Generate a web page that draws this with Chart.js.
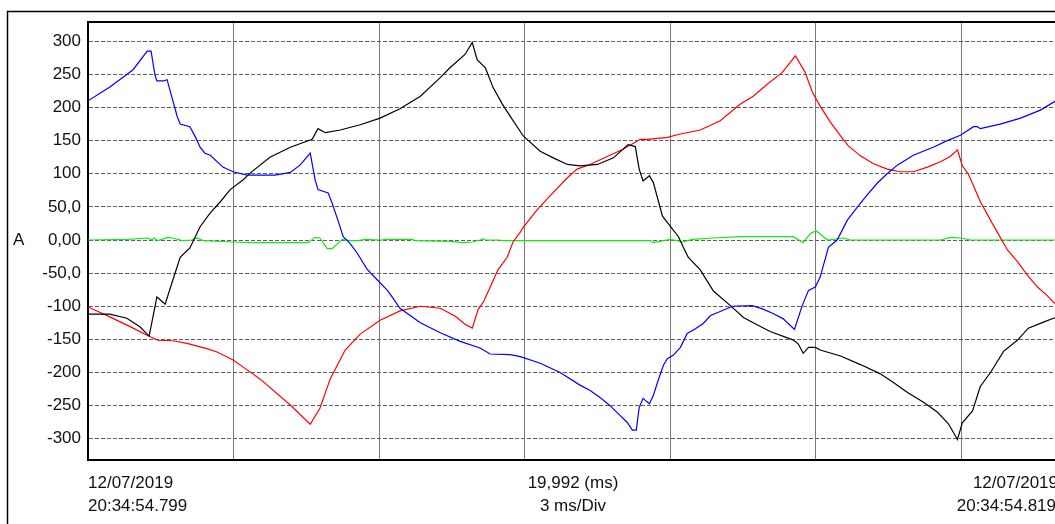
<!DOCTYPE html>
<html>
<head>
<meta charset="utf-8">
<script src="https://cdn.jsdelivr.net/npm/chart.js@4.4.0/dist/chart.umd.min.js"></script>
<style>
  html, body { margin: 0; padding: 0; overflow: hidden; background: #fff; }
  .wrap { position: relative; width: 1058px; height: 524px; }
</style>
</head>
<body>
<div class="wrap"><canvas id="osc"></canvas></div>
<script>
// time in ms from the left edge of the window, current in A
const blueT = [0, 0.45, 0.93, 1.22, 1.30, 1.38, 1.42, 1.55, 1.63, 1.84, 1.90, 2.10, 2.21, 2.31, 2.41, 2.52, 2.78, 2.99, 3.28, 3.86, 4.17, 4.37, 4.58, 4.68, 4.74, 4.95, 5.03, 5.15, 5.26, 5.40, 5.55, 5.75, 5.96, 6.17, 6.29, 6.43, 6.85, 7.26, 7.67, 8.08, 8.29, 8.70, 8.91, 9.32, 9.73, 10.14, 10.35, 10.56, 10.76, 10.97, 11.11, 11.22, 11.30, 11.36, 11.44, 11.57, 11.65, 11.75, 11.86, 11.94, 12.06, 12.21, 12.35, 12.52, 12.68, 12.83, 13.03, 13.28, 13.69, 13.90, 14.12, 14.33, 14.56, 14.72, 14.85, 14.99, 15.09, 15.26, 15.44, 15.65, 15.86, 16.06, 16.27, 16.47, 16.68, 17.01, 17.42, 17.71, 17.98, 18.25, 18.33, 18.39, 18.80, 19.22, 19.63, 19.99]
const blueA = [210, 231, 257, 285, 285, 249, 240, 240, 242, 186, 175, 171, 156, 140, 131, 128, 110, 103, 98, 98, 102, 113, 131, 91, 76, 71, 56, 30, 5, -5, -20, -44, -60, -76, -88, -103, -125, -140, -153, -163, -172, -173, -176, -186, -200, -219, -227, -238, -250, -265, -275, -287, -287, -253, -239, -247, -235, -212, -189, -179, -174, -162, -141, -134, -126, -114, -108, -100, -99, -104, -111, -119, -135, -99, -76, -71, -56, -11, 0, 30, 50, 68, 86, 100, 113, 128, 140, 150, 158, 171, 171, 168, 175, 184, 196, 212]

const blackT = [0, 0.45, 0.80, 1.07, 1.26, 1.42, 1.59, 1.75, 1.90, 2.10, 2.31, 2.52, 2.72, 2.93, 3.20, 3.34, 3.75, 4.17, 4.62, 4.74, 4.89, 5.20, 5.61, 6.02, 6.43, 6.85, 7.26, 7.46, 7.77, 7.92, 8.02, 8.19, 8.35, 8.54, 8.70, 8.97, 9.32, 9.59, 9.88, 10.14, 10.50, 10.83, 11.13, 11.28, 11.36, 11.44, 11.57, 11.65, 11.84, 12.00, 12.17, 12.27, 12.37, 12.62, 12.89, 13.24, 13.51, 13.71, 14.06, 14.54, 14.64, 14.74, 14.85, 14.99, 15.09, 15.51, 15.92, 16.33, 16.60, 16.89, 17.22, 17.51, 17.73, 17.92, 18.02, 18.23, 18.39, 18.60, 18.87, 19.16, 19.38, 19.69, 19.90, 19.99]
const blackA = [-112, -112, -118, -131, -145, -86, -97, -60, -26, -12, 20, 41, 57, 76, 91, 101, 125, 140, 152, 168, 162, 166, 174, 184, 198, 217, 245, 260, 280, 298, 272, 260, 230, 205, 187, 157, 134, 124, 114, 112, 114, 124, 144, 141, 107, 89, 97, 87, 36, 21, 5, -11, -26, -45, -77, -99, -117, -125, -138, -151, -157, -171, -162, -162, -166, -175, -188, -202, -215, -230, -245, -260, -277, -301, -276, -258, -221, -200, -168, -151, -133, -124, -118, -116]

const redT = [0, 0.45, 0.93, 1.28, 1.44, 1.75, 2.04, 2.45, 2.66, 2.99, 3.28, 3.55, 4.17, 4.58, 4.78, 4.99, 5.30, 5.61, 6.02, 6.43, 6.85, 7.26, 7.57, 7.77, 7.92, 8.04, 8.16, 8.29, 8.45, 8.64, 8.76, 8.91, 8.97, 9.26, 9.59, 9.88, 10.08, 10.35, 10.70, 11.03, 11.38, 11.53, 11.94, 12.21, 12.62, 13.03, 13.44, 13.71, 14.00, 14.31, 14.58, 14.78, 14.93, 15.09, 15.30, 15.51, 15.67, 15.92, 16.19, 16.47, 16.74, 17.01, 17.30, 17.57, 17.77, 17.92, 18.02, 18.14, 18.25, 18.39, 18.60, 18.95, 19.16, 19.36, 19.57, 19.77, 19.90, 19.99]
const redA = [-101, -116, -133, -146, -151, -152, -156, -164, -169, -181, -196, -210, -249, -278, -254, -210, -166, -142, -121, -107, -100, -103, -115, -127, -133, -105, -92, -71, -45, -26, -3, 12, 19, 46, 72, 94, 107, 114, 126, 137, 152, 152, 155, 160, 166, 180, 205, 217, 235, 253, 278, 253, 223, 202, 178, 157, 142, 127, 115, 107, 103, 103, 110, 118, 126, 136, 112, 100, 82, 58, 30, -15, -33, -53, -71, -84, -94, -99]

const greenT = [0, 0.82, 1.22, 1.32, 1.36, 1.44, 1.65, 1.75, 1.94, 2.14, 2.25, 2.37, 2.99, 3.34, 4.54, 4.68, 4.78, 4.93, 5.03, 5.24, 5.40, 5.57, 5.71, 6.02, 6.17, 6.68, 6.74, 7.46, 7.73, 7.92, 8.08, 8.14, 8.19, 8.45, 8.56, 9.53, 10.56, 11.59, 11.65, 12.00, 12.27, 12.45, 12.89, 13.44, 14.54, 14.74, 14.89, 15.01, 15.24, 15.57, 15.71, 17.57, 17.77, 17.98, 18.19, 19.99]
const greenA = [0, 1, 3, 0, 3, -1, 4, 3, -1, 0, 3, -1, -3, -4, -4, 4, 3, -13, -13, 1, -1, -1, 1, 0, 1, 1, -1, -2, -4, -3, 0, 2, 0, 0, -1, -1, -1, -1, -4, 1, -3, 1, 3, 5, 5, -4, 10, 14, 0, 3, 0, 0, 4, 3, 0, 0]

const yTickValues = [300, 250, 200, 150, 100, 50, 0, -50, -100, -150, -200, -250, -300]
const yTickLabels = ["300", "250", "200", "150", "100", "50,0", "0,00", "-50,0", "-100", "-150", "-200", "-250", "-300"]
const unitLabel = "A"
const startLabel = ["12/07/2019", "20:34:54.799"]
const endLabel = ["12/07/2019", "20:34:54.819"]
const spanLabel = ["19,992 (ms)", "3 ms/Div"]
const spanMs = 19.992
const divMs = 3

const FONT = "17px 'Liberation Sans', Arial, sans-serif"

const toPoints = (t, a) => t.map((x, i) => ({ x: x, y: a[i] }))

const series = (label, color, t, a) => ({
  label: label,
  data: toPoints(t, a),
  borderColor: color,
  backgroundColor: color,
  borderWidth: 1.2,
  pointRadius: 0,
  tension: 0,
})

// frame lines and the text under the plot
const framePlugin = {
  id: "frame",
  afterDraw(chart) {
    const ctx = chart.ctx
    const area = chart.chartArea
    ctx.save()
    ctx.strokeStyle = "#000"
    ctx.lineWidth = 1.5
    ctx.beginPath()
    ctx.moveTo(7.5, 524)
    ctx.lineTo(7.5, 11.5)
    ctx.lineTo(chart.width, 11.5)
    ctx.stroke()
    ctx.lineWidth = 2
    ctx.beginPath()
    ctx.moveTo(area.left - 1, area.top)
    ctx.lineTo(area.right, area.top)
    ctx.stroke()

    ctx.fillStyle = "#111"
    ctx.font = FONT
    ctx.textBaseline = "middle"
    ctx.textAlign = "left"
    ctx.fillText(unitLabel, 13, chart.scales.y.getPixelForValue(0))
    ctx.fillText(startLabel[0], area.left, area.bottom + 23)
    ctx.fillText(startLabel[1], area.left, area.bottom + 46)
    ctx.textAlign = "center"
    const mid = (area.left + area.right) / 2
    ctx.fillText(spanLabel[0], mid, area.bottom + 23)
    ctx.fillText(spanLabel[1], mid, area.bottom + 46)
    ctx.textAlign = "right"
    ctx.fillText(endLabel[0], area.right, area.bottom + 23)
    ctx.fillText(endLabel[1], area.right - 2, area.bottom + 46)
    ctx.restore()
  },
}

const ctx = document.getElementById("osc").getContext("2d")
const oscChart = new Chart(ctx, {
  type: "line",
  data: {
    datasets: [
      series("Ia", "#0000ff", blueT, blueA),
      series("Ib", "#000000", blackT, blackA),
      series("Ic", "#ff0000", redT, redA),
      series("In", "#14e614", greenT, greenA),
    ],
  },
  options: {
    animation: false,
    responsive: true,
    maintainAspectRatio: false,
    layout: { padding: { top: 22, bottom: 64, left: 0, right: 0 } },
    plugins: { legend: { display: false }, tooltip: { enabled: false } },
    scales: {
      x: {
        type: "linear",
        min: 0,
        max: spanMs,
        afterFit: (s) => { s.height = 0 },
        ticks: { display: false, stepSize: divMs, includeBounds: false },
        grid: { color: "#7a7a7a", lineWidth: 1, drawTicks: false },
        border: { display: true, color: "#000", width: 2 },
      },
      y: {
        min: -332,
        max: 329,
        afterFit: (s) => { s.width = 88 },
        ticks: {
          stepSize: 50,
          includeBounds: false,
          padding: 7,
          color: "#111",
          font: { family: "'Liberation Sans', Arial, sans-serif", size: 17 },
          callback: (v) => {
            const i = yTickValues.indexOf(v)
            return i >= 0 ? yTickLabels[i] : ""
          },
        },
        grid: { color: "#5e5e5e", lineWidth: 1, drawTicks: false },
        border: { display: true, color: "#000", width: 2, dash: [4, 2] },
      },
    },
  },
  plugins: [framePlugin],
})
</script>
</body>
</html>
